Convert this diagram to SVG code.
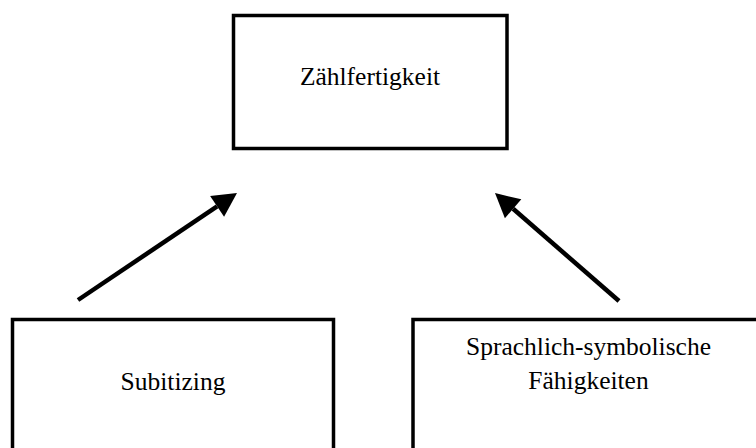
<svg xmlns="http://www.w3.org/2000/svg" width="756" height="448" viewBox="0 0 756 448">
<style>
.box{fill:#fff;stroke:#000;stroke-width:3.5}
.lbl{font-family:"Liberation Serif","Times New Roman",serif;font-size:25.5px;fill:#000;text-anchor:middle}
.conn{stroke:#000;stroke-width:4.5;fill:none}
</style>
<defs>
<marker id="ah" markerUnits="userSpaceOnUse" markerWidth="25" markerHeight="26" refX="0" refY="12.5" orient="auto" overflow="visible">
<path d="M0,0 L24,12.5 L0,25 z" fill="#000"/>
</marker>
</defs>
<rect width="756" height="448" fill="#fff"/>
<g id="node-zaehlfertigkeit">
<rect class="box" x="233.5" y="15.5" width="273.5" height="133"/>
<text class="lbl" x="370" y="85">Zählfertigkeit</text>
</g>
<g id="node-subitizing">
<rect class="box" x="12.5" y="319.5" width="321" height="150"/>
<text class="lbl" x="173" y="390">Subitizing</text>
</g>
<g id="node-sprachlich">
<rect class="box" x="413" y="319.5" width="360" height="150"/>
<text class="lbl" x="588.5" y="355">Sprachlich-symbolische</text>
<text class="lbl" x="588.5" y="389">Fähigkeiten</text>
</g>
<g id="connectors">
<line class="conn" x1="78" y1="300" x2="217.1" y2="206.4" marker-end="url(#ah)"/>
<line class="conn" x1="619" y1="301" x2="513.1" y2="208.8" marker-end="url(#ah)"/>
</g>
</svg>
